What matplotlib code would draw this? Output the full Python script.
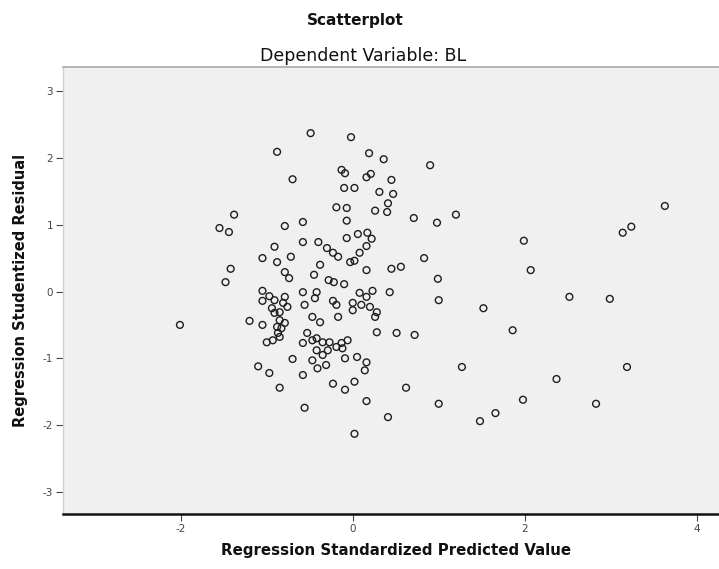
import matplotlib
matplotlib.use("Agg")
import matplotlib.pyplot as plt

# Regression Standardized Predicted Value
pred = [-0.49, -0.02, -0.88, 0.19, 0.36, 0.90, -0.70, -0.13, -0.09, 0.16,
        0.21, 0.45, -0.10, 0.02, 0.31, 0.47, 0.41, 0.40, -0.19, -0.07,
        0.26, 0.71, 1.20, 0.98, -1.38, -1.55, -1.44, -0.07, -0.79, -0.58,
        1.99, 3.63, 3.14, 3.24, -0.58, -0.40, -0.07, 0.06, 0.17, 0.22,
        0.16, 0.08, -0.91, -0.30, -0.23, -0.17, -1.05, -0.88, -0.72, -0.38,
        -0.45, -0.79, -0.74, -0.03, 0.02, 0.16, 0.45, 0.56, 0.83, -1.42,
        -1.48, -0.28, -0.22, -0.10, 0.99, 2.07, 0.43, -1.05, -0.97, -1.05,
        -0.91, -0.58, -0.42, -0.44, -0.56, 0.08, 0.16, 0.23, 1.00, 2.52,
        2.99, -0.81, -0.23, 0.00, -0.19, -0.76, -0.79, 0.00, 0.10, 0.20,
        0.28, 0.26, 1.52, -2.01, -1.20, -1.05, -0.91, -0.85, -0.88, -0.87,
        -0.93, -1.00, -0.47, -0.38, -0.53, -0.42, -0.35, -0.27, -0.42, -0.35,
        -0.47, -0.41, -0.58, -0.13, -0.06, -0.12, 0.28, 0.51, 0.72, 1.86,
        -0.70, -0.09, 0.05, 0.16, 0.14, -1.10, -0.97, -0.58, -0.23, -0.09,
        0.02, -0.85, 0.62, 0.16, -0.56, 0.41, 0.02, 1.27, 1.00, 2.37,
        3.19, 1.98, 1.66, 1.48, 2.83, -0.17, -0.29, -0.19, -0.31, -0.47,
        -0.85, -0.94, -0.85, -0.79, -0.83]

# Regression Studentized Residual
resid = [2.37, 2.31, 2.09, 2.07, 1.98, 1.89, 1.68, 1.82, 1.77, 1.71,
         1.76, 1.67, 1.55, 1.55, 1.49, 1.46, 1.32, 1.19, 1.26, 1.25,
         1.21, 1.10, 1.15, 1.03, 1.15, 0.95, 0.89, 1.06, 0.98, 1.04,
         0.76, 1.28, 0.88, 0.97, 0.74, 0.74, 0.80, 0.86, 0.88, 0.79,
         0.68, 0.58, 0.67, 0.65, 0.58, 0.52, 0.50, 0.44, 0.52, 0.40,
         0.25, 0.29, 0.20, 0.44, 0.46, 0.32, 0.34, 0.37, 0.50, 0.34,
         0.14, 0.17, 0.14, 0.11, 0.19, 0.32, -0.01, 0.01, -0.07, -0.14,
         -0.13, -0.01, -0.01, -0.10, -0.20, -0.02, -0.08, 0.01, -0.13, -0.08,
         -0.11, -0.17, -0.14, -0.17, -0.20, -0.23, -0.08, -0.28, -0.20, -0.23,
         -0.31, -0.38, -0.25, -0.50, -0.44, -0.50, -0.32, -0.43, -0.53, -0.62,
         -0.73, -0.76, -0.38, -0.46, -0.62, -0.70, -0.76, -0.76, -0.88, -0.95,
         -1.03, -1.15, -0.77, -0.77, -0.73, -0.85, -0.61, -0.62, -0.65, -0.58,
         -1.01, -1.00, -0.98, -1.06, -1.18, -1.12, -1.22, -1.25, -1.38, -1.47,
         -1.35, -1.44, -1.44, -1.64, -1.74, -1.88, -2.13, -1.13, -1.68, -1.31,
         -1.13, -1.62, -1.82, -1.94, -1.68, -0.38, -0.88, -0.83, -1.10, -0.73,
         -0.68, -0.25, -0.31, -0.47, -0.55]

xticks = [-2, 0, 2, 4]
yticks = [-3, -2, -1, 0, 1, 2, 3]

title = "Scatterplot"
subtitle = "Dependent Variable: BL"
xlabel = "Regression Standardized Predicted Value"
ylabel = "Regression Studentized Residual"

fig = plt.figure(figsize=(7.19, 5.69), dpi=100)
ax = fig.add_axes([63 / 719, 1 - 514 / 569, 1 - 63 / 719, (514 - 67) / 569])
ax.set_facecolor("#f0f0f0")

ax.scatter(pred, resid, s=24, facecolors="none", edgecolors="#1e1e1e",
           linewidths=1.0, zorder=3)

ax.set_xlim(-3.37, 4.26)
ax.set_ylim(-3.33, 3.36)
ax.set_xticks(xticks)
ax.set_yticks(yticks)
ax.set_xticklabels([str(t) for t in xticks])
ax.set_yticklabels([str(t) for t in yticks])
ax.tick_params(axis="both", direction="out", length=5, width=0.8,
               colors="#444444", labelsize=7.5, pad=2)

ax.spines["right"].set_visible(False)
ax.spines["top"].set_color("#a8a8a8")
ax.spines["top"].set_linewidth(1.2)
ax.spines["left"].set_color("#d0d0d0")
ax.spines["left"].set_linewidth(1.0)
ax.spines["bottom"].set_color("#111111")
ax.spines["bottom"].set_linewidth(1.8)

fig.text(355 / 719, 1 - 20 / 569, title, ha="center", va="center",
         fontsize=11, fontweight="bold", color="#111111")
fig.text(363 / 719, 1 - 56 / 569, subtitle, ha="center", va="center",
         fontsize=12.5, color="#111111")
fig.text(396 / 719, 1 - 550 / 569, xlabel, ha="center", va="center",
         fontsize=10.8, fontweight="bold", color="#111111")
fig.text(21 / 719, 1 - 290 / 569, ylabel, ha="center", va="center",
         rotation=90, fontsize=10.5, fontweight="bold", color="#111111")

fig.savefig("out.png", dpi=100)
